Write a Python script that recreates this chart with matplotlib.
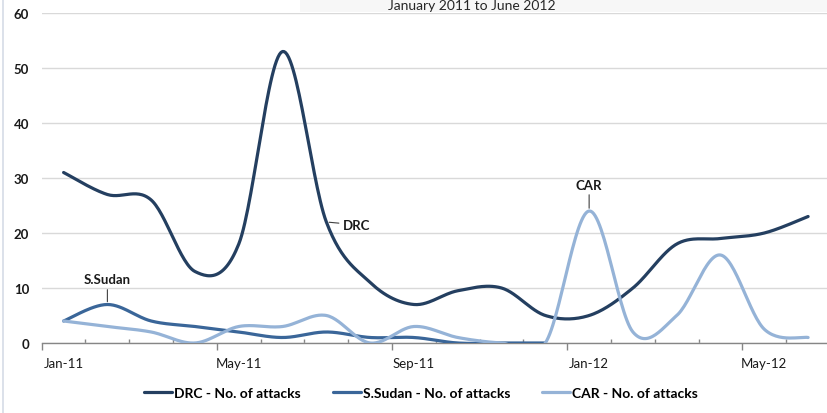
import numpy as np
import matplotlib
matplotlib.use("Agg")
import matplotlib.pyplot as plt
from matplotlib.patches import Rectangle
from matplotlib.lines import Line2D
import matplotlib.transforms as mtransforms

plt.rcParams['font.family'] = ['Lato', 'DejaVu Sans']

months = ["Jan-11", "Feb-11", "Mar-11", "Apr-11", "May-11", "Jun-11", "Jul-11", "Aug-11",
          "Sep-11", "Oct-11", "Nov-11", "Dec-11", "Jan-12", "Feb-12", "Mar-12", "Apr-12",
          "May-12", "Jun-12"]
drc = [31, 27, 26, 13, 18, 53, 22, 11, 7, 9.5, 10, 5, 5, 10, 18, 19, 20, 23]
ssudan = [4, 7, 4, 3, 2, 1, 2, 1, 1, 0, 0, 0]
car = [4, 3, 2, 0, 3, 3, 5, 0, 3, 1, 0, 0, 24, 2, 5, 16, 2.5, 1]
tick_labels = ["Jan-11", "May-11", "Sep-11", "Jan-12", "May-12"]
tick_idx = [0, 4, 8, 12, 16]
series_names = ["DRC - No. of attacks", "S.Sudan - No. of attacks", "CAR - No. of attacks"]
colors = ["#243F60", "#3A6699", "#95B3D7"]
title = "January 2011 to June 2012"


def smooth(y, n=30):
    """Excel-like smoothed line through points (cardinal Bezier)."""
    y = np.asarray(y, float)
    x = np.arange(len(y), dtype=float)
    P = np.column_stack([x, y])
    out = []
    for i in range(len(P) - 1):
        p0 = P[i - 1] if i > 0 else P[i]
        p1 = P[i]
        p2 = P[i + 1]
        p3 = P[i + 2] if i + 2 < len(P) else P[i + 1]
        c1 = p1 + (p2 - p0) / 6.0
        c2 = p2 - (p3 - p1) / 6.0
        t = np.linspace(0, 1, n)[:, None]
        seg = ((1 - t) ** 3) * p1 + 3 * ((1 - t) ** 2) * t * c1 + 3 * (1 - t) * t ** 2 * c2 + t ** 3 * p2
        if i > 0:
            seg = seg[1:]
        out.append(seg)
    arr = np.vstack(out)
    return arr[:, 0], arr[:, 1]


W, H = 827, 414
fig = plt.figure(figsize=(W / 100, H / 100), dpi=100)
fig.patch.set_facecolor("white")

# light title band and left border
fig.patches.append(Rectangle((300 / W, 1 - 13 / H), 1, 13 / H, transform=fig.transFigure,
                             facecolor="#F7F7F7", edgecolor="none", zorder=0))
fig.add_artist(Line2D([3 / W, 3 / W], [0, 1], transform=fig.transFigure, color="#D5DCE6", lw=1.2))

left = 41.7 / W
right = 830 / W
bottom = 1 - 344 / H
top = 1 - 14 / H
ax = fig.add_axes([left, bottom, right - left, top - bottom])
ax.set_facecolor("none")

lines = []
for vals, c, name in zip([drc, ssudan, car], colors, series_names):
    xs, ys = smooth(vals)
    ln, = ax.plot(xs, ys, color=c, lw=2.3, solid_capstyle="round", label=name, zorder=3)
    lines.append(ln)

ax.set_xlim(-0.5, 17.5)
ax.set_ylim(0, 60)
ax.set_yticks(np.arange(0, 61, 10))
ax.yaxis.grid(True, color="#D9D9D9", lw=1.0)
ax.set_axisbelow(True)
for s in ["top", "right", "left"]:
    ax.spines[s].set_visible(False)
ax.spines["bottom"].set_color("#868686")
ax.spines["bottom"].set_linewidth(1.0)
ax.tick_params(axis="y", length=0, pad=9, labelsize=9.5, labelcolor="#1a1a1a")
for lbl in ax.get_yticklabels():
    lbl.set_fontweight("bold")

major_b = [i - 0.5 for i in tick_idx]
minor_b = [i - 0.5 for i in range(19) if (i - 0.5) not in major_b]
ax.set_xticks(major_b)
ax.set_xticklabels([""] * len(major_b))
ax.set_xticks(minor_b, minor=True)
ax.tick_params(axis="x", which="major", direction="out", length=5, color="#868686", width=1)
ax.tick_params(axis="x", which="minor", direction="in", length=3, color="#868686", width=1)

trans = mtransforms.blended_transform_factory(ax.transData, ax.transAxes)
for i, t in zip(tick_idx, tick_labels):
    ax.text(i, -20 / (344 - 14), t, transform=trans, ha="center", va="center",
            fontsize=9.5, color="#1a1a1a")

# data labels with leader lines
ann_kw = dict(arrowprops=dict(arrowstyle="-", color="#404040", lw=0.8, shrinkA=1, shrinkB=2),
              fontsize=9.5, fontweight="bold", color="#1a1a1a", textcoords="offset points")
ax.annotate("DRC", xy=(6, drc[6]), xytext=(12, -2), ha="left", va="center", **ann_kw)
ax.annotate("S.Sudan", xy=(1, ssudan[1]), xytext=(0, 18), ha="center", va="center", **ann_kw)
ax.annotate("CAR", xy=(12, car[12]), xytext=(0, 19), ha="center", va="center", **ann_kw)

fig.text(472 / W, 1 - 6 / H, title, ha="center", va="center", fontsize=10, color="#262626")

fig.legend(handles=lines, labels=series_names, loc="center", bbox_to_anchor=(421 / W, 1 - 394 / H),
           ncol=3, frameon=False, handlelength=2.0, handletextpad=0.15, columnspacing=2.3,
           prop=dict(weight="bold", size=10))

fig.savefig("out.png", dpi=100, facecolor="white")
